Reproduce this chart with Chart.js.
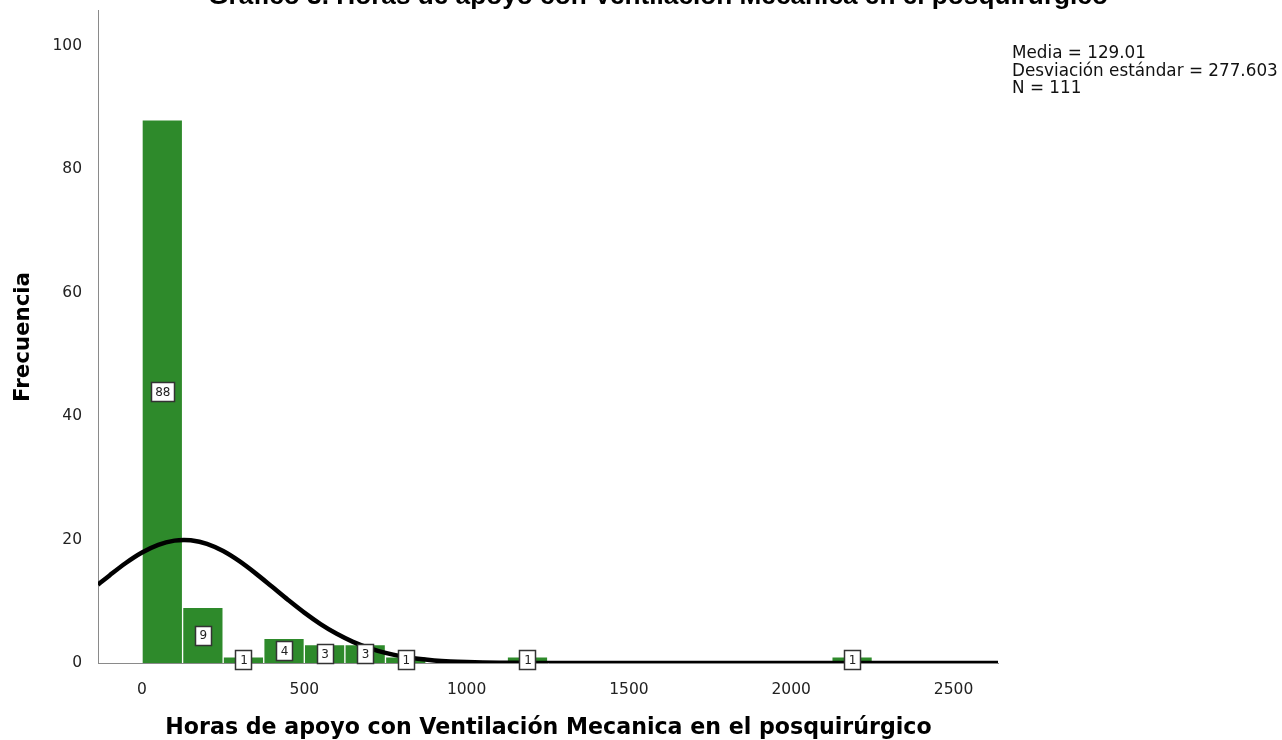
<!DOCTYPE html>
<html>
<head>
<meta charset="utf-8">
<script src="https://cdn.jsdelivr.net/npm/chart.js@4/dist/chart.umd.min.js"></script>
<style>
  html, body { margin: 0; padding: 0; background: #ffffff; }
  #wrap { width: 1282px; height: 740px; position: relative; }
</style>
</head>
<body>
<div id="wrap"><canvas id="c" width="1282" height="740"></canvas></div>
<script>
// ---- Data ----
const TITLE = "Gráfico 3. Horas de apoyo con Ventilación Mecanica en el posquirúrgico";
const X_TITLE = "Horas de apoyo con Ventilación Mecanica en el posquirúrgico";
const Y_TITLE = "Frecuencia";
const STATS = ["Media = 129.01", "Desviación estándar = 277.603", "N = 111"];

// histogram bins (bin width 125 h): bin centers and counts
const BIN_CENTERS = [62.5, 187.5, 312.5, 437.5, 562.5, 687.5, 812.5, 1187.5, 2187.5];
const BIN_COUNTS  = [88, 9, 1, 4, 3, 3, 1, 1, 1];

// fitted normal curve
const CURVE_X = [-135.6, -100, -50, 0, 50, 100, 129, 150, 200, 250, 300, 350, 400, 450, 500, 550, 600, 650, 700, 750, 800, 850, 900, 950, 1000, 1050, 1100, 1150, 1200, 1300, 1400, 2637];
const CURVE_Y = [12.69, 14.19, 16.20, 17.90, 19.15, 19.83, 19.94, 19.88, 19.30, 18.13, 16.49, 14.52, 12.38, 10.22, 8.16, 6.31, 4.73, 3.43, 2.41, 1.63, 1.07, 0.68, 0.42, 0.25, 0.145, 0.081, 0.044, 0.023, 0.012, 0.003, 0.0, 0.0];

const Y_TICKS = [0, 20, 40, 60, 80, 100];
const X_TICKS = [0, 500, 1000, 1500, 2000, 2500];
const X_MIN = -135.6, X_MAX = 2637, Y_MIN = 0, Y_MAX = 105.8;

// ---- helpers ----
function fitFont(ctx, text, weight, family, target) {
  ctx.font = `${weight} 100px ${family}`;
  const w = ctx.measureText(text).width;
  return `${weight} ${(100 * target / w).toFixed(2)}px ${family}`;
}

const barData = BIN_CENTERS.map((x, i) => ({ x: x, y: BIN_COUNTS[i] }));
const curveData = CURVE_X.map((x, i) => ({ x: x, y: CURVE_Y[i] }));

const decorPlugin = {
  id: 'decor',
  afterDatasetsDraw(chart) {
    const ctx = chart.ctx;
    const meta = chart.getDatasetMeta(1);
    ctx.save();
    ctx.font = "12px 'DejaVu Sans'";
    ctx.textAlign = 'center';
    ctx.textBaseline = 'middle';
    meta.data.forEach((el, i) => {
      const txt = String(BIN_COUNTS[i]);
      const cx = el.x;
      const cy = (el.y + el.base) / 2;
      const tw = ctx.measureText(txt).width;
      const bw = Math.max(15, Math.round(tw + 8));
      const bh = 19;
      const bx = Math.round(cx - bw / 2) + 0.5;
      const by = Math.round(cy - bh / 2) + 0.5;
      ctx.fillStyle = '#ffffff';
      ctx.fillRect(bx, by, bw, bh);
      ctx.strokeStyle = '#333333';
      ctx.lineWidth = 1.5;
      ctx.strokeRect(bx, by, bw, bh);
      ctx.fillStyle = '#222';
      ctx.fillText(txt, cx + 0.5, cy + 1);
    });
    ctx.restore();
  },
  afterDraw(chart) {
    const ctx = chart.ctx;
    ctx.save();
    ctx.fillStyle = '#000';
    ctx.font = fitFont(ctx, TITLE, 'bold', "'Liberation Sans'", 900);
    ctx.textAlign = 'center';
    ctx.textBaseline = 'alphabetic';
    ctx.fillText(TITLE, 658, 4);
    ctx.font = fitFont(ctx, X_TITLE, 'bold', "'DejaVu Sans'", 767);
    ctx.fillText(X_TITLE, 548.5, 734);
    ctx.save();
    ctx.translate(29, 337);
    ctx.rotate(-Math.PI / 2);
    ctx.font = fitFont(ctx, Y_TITLE, 'bold', "'DejaVu Sans'", 130);
    ctx.fillText(Y_TITLE, 0, 0);
    ctx.restore();
    ctx.textAlign = 'left';
    ctx.font = fitFont(ctx, STATS[1], 'normal', "'DejaVu Sans'", 266);
    ctx.fillStyle = '#111';
    ctx.fillText(STATS[0], 1012, 58);
    ctx.fillText(STATS[1], 1012, 75.5);
    ctx.fillText(STATS[2], 1012, 93);
    ctx.restore();
  }
};

new Chart(document.getElementById('c'), {
  type: 'bar',
  data: {
    datasets: [
      {
        type: 'line',
        label: 'Normal',
        data: curveData,
        borderColor: '#000000',
        borderWidth: 4.5,
        pointRadius: 0,
        fill: false,
        cubicInterpolationMode: 'monotone',
        order: 0
      },
      {
        type: 'bar',
        label: 'Frecuencia',
        data: barData,
        backgroundColor: '#2e8a2b',
        borderColor: 'rgba(255,255,255,0.85)',
        borderWidth: 1,
        borderSkipped: 'bottom',
        barPercentage: 1.0,
        categoryPercentage: 1.0,
        order: 1
      }
    ]
  },
  options: {
    responsive: false,
    animation: false,
    devicePixelRatio: 1,
    layout: { padding: { left: 0, top: 10, right: 284, bottom: 0 } },
    plugins: { legend: { display: false }, tooltip: { enabled: false }, title: { display: false } },
    scales: {
      x: {
        type: 'linear',
        min: X_MIN, max: X_MAX,
        offset: false,
        grid: { display: false },
        border: { display: true, color: '#8a8a8a', width: 1 },
        ticks: { font: { family: "'DejaVu Sans'", size: 15.5 }, color: '#222', padding: 10, maxRotation: 0,
                 callback: v => String(v) },
        afterBuildTicks: s => { s.ticks = X_TICKS.map(v => ({ value: v })); },
        afterFit: s => { s.height = 77; s.paddingLeft = 0; s.paddingRight = 0; }
      },
      y: {
        type: 'linear',
        min: Y_MIN, max: Y_MAX,
        grid: { display: false },
        border: { display: true, color: '#8a8a8a', width: 1 },
        ticks: { font: { family: "'DejaVu Sans'", size: 15.5 }, color: '#222', padding: 8,
                 callback: v => String(v) },
        afterBuildTicks: s => { s.ticks = Y_TICKS.map(v => ({ value: v })); },
        afterFit: s => { s.width = 98; s.paddingTop = 0; s.paddingBottom = 0; }
      }
    }
  },
  plugins: [decorPlugin]
});
</script>
</body>
</html>
